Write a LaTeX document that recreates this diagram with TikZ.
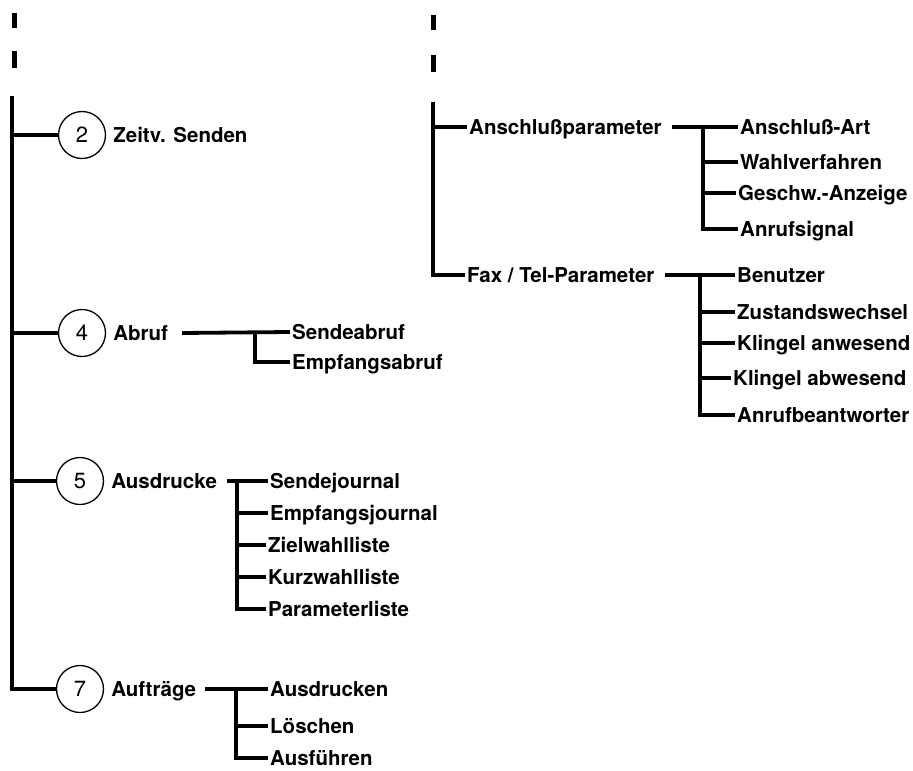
\documentclass[tikz,border=0pt]{standalone}
\usepackage{fontspec}
\setmainfont{TeX Gyre Heros}
\usetikzlibrary{positioning}

\begin{document}
\begin{tikzpicture}[
  x=1pt, y=-1pt,
  tree/.style={line width=3.8pt},
  stub/.style={line width=5pt},
  num/.style={draw, circle, line width=1.3pt, minimum size=47pt, inner sep=0pt, font=\fontsize{22}{24}\selectfont},
  lbl/.style={anchor=west, inner sep=2pt, text height=14.5pt, text depth=0pt, font=\fontsize{20.5}{24}\selectfont\bfseries}
]
\useasboundingbox (0,0) rectangle (913,771);
% left column
\draw[stub] (14,13) -- (14,28) (14,51) -- (14,68);
\coordinate (ltop) at (12,96);
\node[num] (c2) at (82,135) {2};
\node[lbl, right=5pt of c2] (zeitv) {Zeitv. Senden};
\node[num] (c4) at (82,333) {4};
\node[lbl, right=5pt of c4] (abruf) {Abruf};
\node[num] (c5) at (80,481) {5};
\node[lbl, right=5pt of c5] (ausdr) {Ausdrucke};
\node[num] (c7) at (80,689) {7};
\node[lbl, right=5pt of c7] (auftr) {Aufträge};
\draw[tree] (ltop) |- (c7.west);
\draw[tree] (c2.west) -- (c2.west -| ltop);
\draw[tree] (c4.west) -- (c4.west -| ltop);
\draw[tree] (c5.west) -- (c5.west -| ltop);

% Abruf
\node[lbl] (sendab) at (290,332) {Sendeabruf};
\node[lbl] (empfab) at (290,362) {Empfangsabruf};
\coordinate (jabr) at (255,332);
\draw[tree] ([xshift=12pt]abruf.east) -- (sendab.west);
\draw[tree] (jabr) |- (empfab.west);

% Ausdrucke
\node[lbl] (sendj) at (268,481) {Sendejournal};
\node[lbl] (empfj) at (268,513) {Empfangsjournal};
\node[lbl] (zielw) at (266,545) {Zielwahlliste};
\node[lbl] (kurzw) at (266,577) {Kurzwahlliste};
\node[lbl] (paraml) at (266,609) {Parameterliste};
\coordinate (jausdr) at (237,481);
\draw[tree] ([xshift=8pt]ausdr.east) -- (sendj.west);
\draw[tree] (jausdr) |- (paraml.west);
\draw[tree] (jausdr |- empfj.west) -- (empfj.west);
\draw[tree] (jausdr |- zielw.west) -- (zielw.west);
\draw[tree] (jausdr |- kurzw.west) -- (kurzw.west);

% Auftraege
\node[lbl] (ausdn) at (268,689) {Ausdrucken};
\node[lbl] (loesch) at (268,726) {Löschen};
\node[lbl] (ausf) at (268,758) {Ausführen};
\coordinate (jauftr) at (236,689);
\draw[tree] ([xshift=7pt]auftr.east) -- (ausdn.west);
\draw[tree] (jauftr) |- (ausf.west);
\draw[tree] (jauftr |- loesch.west) -- (loesch.west);

% right column
\draw[stub] (433,15) -- (433,30) (433,55) -- (433,72);
\coordinate (rtop) at (433,102);
\node[lbl] (anspar) at (467,127) {Anschlußparameter};
\node[lbl] (faxtel) at (465,275) {Fax / Tel-Parameter};
\draw[tree] (rtop) |- (faxtel.west);
\draw[tree] (anspar.west) -- (anspar.west -| rtop);

% Anschlussparameter
\node[lbl] (ansart) at (738,127) {Anschluß-Art};
\node[lbl] (wahlv) at (738,162) {Wahlverfahren};
\node[lbl] (geschw) at (736,193) {Geschw.-Anzeige};
\node[lbl] (anrufs) at (738,229) {Anrufsignal};
\coordinate (jans) at (703,127);
\draw[tree] ([xshift=8pt]anspar.east) -- (ansart.west);
\draw[tree] (jans) |- (anrufs.west);
\draw[tree] (jans |- wahlv.west) -- (wahlv.west);
\draw[tree] (jans |- geschw.west) -- (geschw.west);

% Fax / Tel
\node[lbl] (benutz) at (735,275) {Benutzer};
\node[lbl] (zustw) at (735,312) {Zustandswechsel};
\node[lbl] (klan) at (735,343) {Klingel anwesend};
\node[lbl] (klab) at (731,378) {Klingel abwesend};
\node[lbl] (anrbe) at (735,415) {Anrufbeantworter};
\coordinate (jfax) at (700,275);
\draw[tree] ([xshift=8pt]faxtel.east) -- (benutz.west);
\draw[tree] (jfax) |- (anrbe.west);
\draw[tree] (jfax |- zustw.west) -- (zustw.west);
\draw[tree] (jfax |- klan.west) -- (klan.west);
\draw[tree] (jfax |- klab.west) -- (klab.west);
\end{tikzpicture}
\end{document}
